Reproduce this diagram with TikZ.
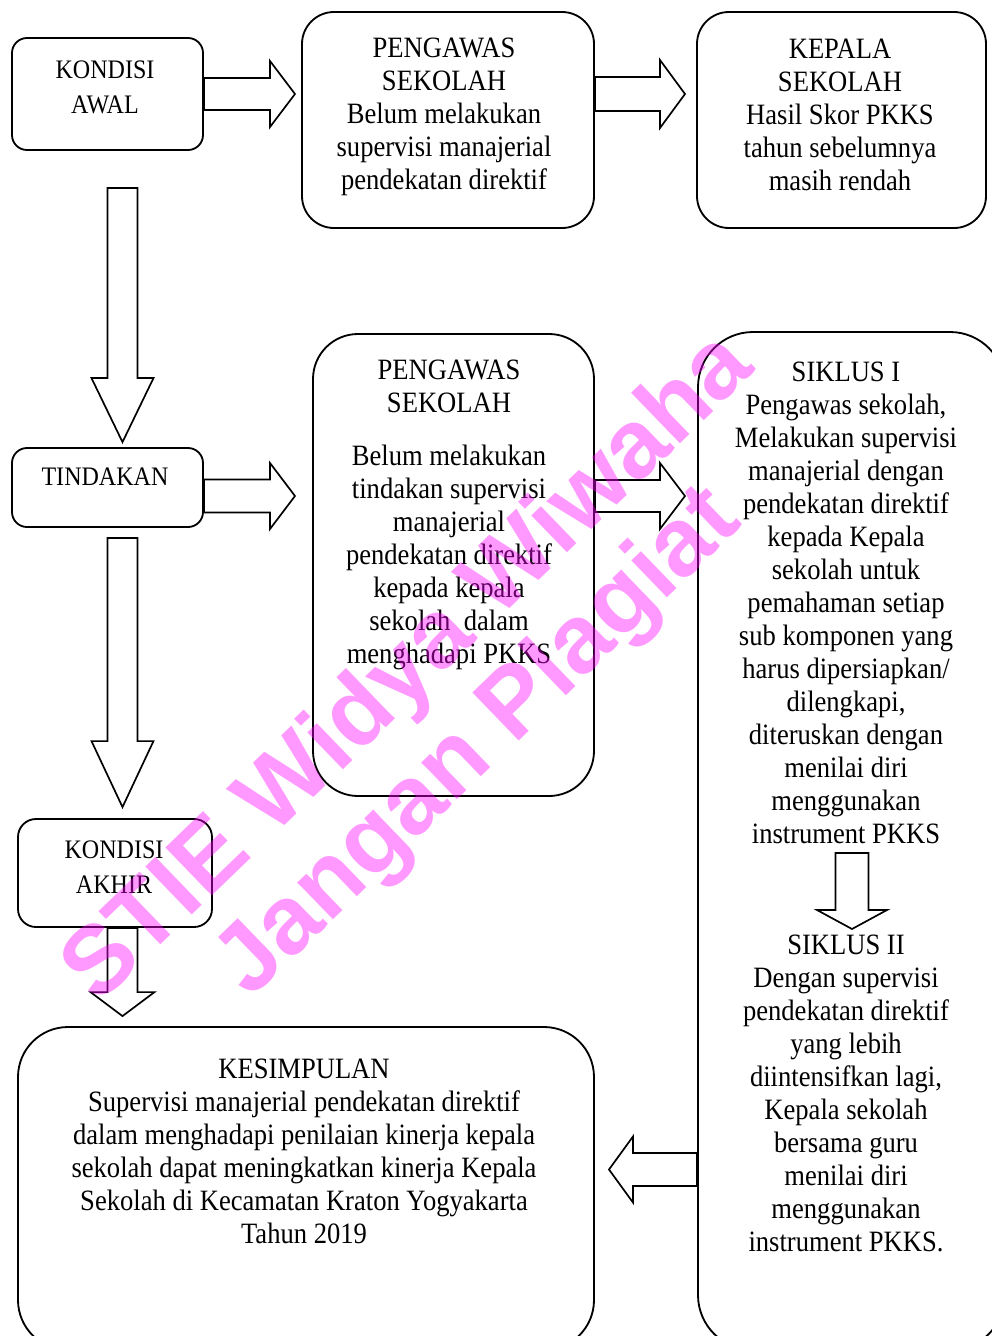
\documentclass[tikz,border=0pt]{standalone}
\usepackage{fontspec}
\setmainfont[FakeStretch=0.9]{Liberation Serif}
\newfontfamily\wmfont{Liberation Sans}
\usetikzlibrary{calc}
\definecolor{wmpink}{RGB}{255,0,255}

\begin{document}
\begin{tikzpicture}[x=0.025cm, y=-0.025cm]
    \tikzstyle{box} = [draw, rectangle, line width=1.3pt, inner sep=0pt]
    \tikzstyle{txt} = [align=center, inner sep=0pt, font=\fontsize{21}{23.5}\selectfont]
    \tikzstyle{small} = [align=center, inner sep=0pt, font=\fontsize{19}{24.9}\selectfont]
    \tikzstyle{wm} = [rotate=44, text=wmpink, text opacity=0.4, inner sep=0pt, font=\wmfont\bfseries\fontsize{69}{69}\selectfont]
    \tikzset{
        sz/.style n args={3}{minimum width=#1*0.025cm, minimum height=#2*0.025cm, rounded corners=#3*0.025cm},
        barrowR/.style n args={3}{draw, fill=white, line width=1.2pt, to path={($(\tikztostart)+(0,-#1)$) -- ($(\tikztotarget)+(-#3,-#1)$) -- ($(\tikztotarget)+(-#3,-#2)$) -- (\tikztotarget) -- ($(\tikztotarget)+(-#3,#2)$) -- ($(\tikztotarget)+(-#3,#1)$) -- ($(\tikztostart)+(0,#1)$) -- cycle}},
        barrowL/.style n args={3}{draw, fill=white, line width=1.2pt, to path={($(\tikztostart)+(0,-#1)$) -- ($(\tikztotarget)+(#3,-#1)$) -- ($(\tikztotarget)+(#3,-#2)$) -- (\tikztotarget) -- ($(\tikztotarget)+(#3,#2)$) -- ($(\tikztotarget)+(#3,#1)$) -- ($(\tikztostart)+(0,#1)$) -- cycle}},
        barrowD/.style n args={3}{draw, fill=white, line width=1.2pt, to path={($(\tikztostart)+(-#1,0)$) -- ($(\tikztotarget)+(-#1,-#3)$) -- ($(\tikztotarget)+(-#2,-#3)$) -- (\tikztotarget) -- ($(\tikztotarget)+(#2,-#3)$) -- ($(\tikztotarget)+(#1,-#3)$) -- ($(\tikztostart)+(#1,0)$) -- cycle}}
    }
    \useasboundingbox (0,0) rectangle (992,1336);
    \clip (0,0) rectangle (992,1336);

    % Boxes
    \node[box, sz={191}{112}{15}] (awal) at (107.5,94) {};
    \node[box, sz={292}{216}{32}] (peng1) at (448,120) {};
    \node[box, sz={289}{216}{32}] (kepala) at (841.5,120) {};
    \node[box, sz={191}{79}{15}] (tind) at (107.5,487.5) {};
    \node[box, sz={281}{462}{45}] (peng2) at (453.5,565) {};
    \node[box, sz={307}{1018}{55}] (siklus) at (851.5,841) {};
    \node[box, sz={194}{108}{18}] (akhir) at (115,873) {};
    \node[box, sz={576}{323}{50}] (simpul) at (306,1188.5) {};

    % Texts
    \node[small] (awalT) at (105,87) {KONDISI\\AWAL};
    \node[txt] (peng1T) at (444,117) {PENGAWAS\\SEKOLAH\\Belum melakukan\\supervisi manajerial\\pendekatan direktif};
    \node[txt] (kepalaT) at (840,115) {KEPALA\\SEKOLAH\\Hasil Skor PKKS\\tahun sebelumnya\\masih rendah};
    \node[small] (tindT) at (105,476.5) {TINDAKAN};
    \node[txt] (peng2T) at (449,515) {PENGAWAS\\SEKOLAH\\[0.5cm]Belum melakukan\\tindakan supervisi\\manajerial\\pendekatan direktif\\kepada kepala\\sekolah\ \ dalam\\menghadapi PKKS};
    \node[txt] (siklus1) at (846,603) {SIKLUS I\\Pengawas sekolah,\\Melakukan supervisi\\manajerial dengan\\pendekatan direktif\\kepada Kepala\\sekolah untuk\\pemahaman setiap\\sub komponen yang\\harus dipersiapkan/\\dilengkapi,\\diteruskan dengan\\menilai diri\\menggunakan\\instrument PKKS};
    \node[txt] (siklus2) at (846,1093.5) {SIKLUS II\\Dengan supervisi\\pendekatan direktif\\yang lebih\\diintensifkan lagi,\\Kepala sekolah\\bersama guru\\menilai diri\\menggunakan\\instrument PKKS.};
    \node[small] (akhirT) at (114,867) {KONDISI\\AKHIR};
    \node[txt] (simpulT) at (304,1151.5) {KESIMPULAN\\Supervisi manajerial pendekatan direktif\\dalam menghadapi penilaian kinerja kepala\\sekolah dapat meningkatkan kinerja Kepala\\Sekolah di Kecamatan Kraton Yogyakarta\\Tahun 2019};

    % Arrows
    \coordinate (a1) at (295,94);
    \coordinate (a2) at (685,94);
    \coordinate (a3) at (295,496);
    \coordinate (a4) at (685,496);
    \coordinate (d1s) at ($(awal.south)+(15,37)$);
    \coordinate (d1) at ($(tind.north)+(15,-5)$);
    \coordinate (d2s) at ($(tind.south)+(15,10)$);
    \coordinate (d2) at ($(akhir.north)+(7.5,-11)$);
    \coordinate (d3s) at ($(akhir.south)+(7.5,0)$);
    \coordinate (d3) at ($(simpul.north -| d3s)+(0,-10)$);
    \coordinate (l1) at (609,1169.5);
    \coordinate (s1s) at (852,853);
    \coordinate (s1) at (852,929);

    \draw[barrowR={16}{33}{25}] (awal.east) to (a1);
    \draw[barrowR={17}{34}{25}] (peng1.east |- a2) to (a2);
    \draw[barrowR={16.5}{33}{25}] (tind.east |- a3) to (a3);
    \draw[barrowR={16}{33}{25}] (peng2.east |- a4) to (a4);
    \draw[barrowD={15}{31}{64}] (d1s) to (d1);
    \draw[barrowD={15}{31}{66}] (d2s) to (d2);
    \draw[barrowD={15}{32}{24}] (d3s) to (d3);
    \draw[barrowL={16.5}{33}{24}] (siklus.west |- l1) to (l1);
    \draw[barrowD={16.5}{35}{19}] (s1s) to (s1);

    % Watermark
    \node[wm] (wm1) at (410,670) {STIE Widya Wiwaha};
    \node[wm] (wm2) at (480,744) {Jangan Plagiat};
\end{tikzpicture}
\end{document}
